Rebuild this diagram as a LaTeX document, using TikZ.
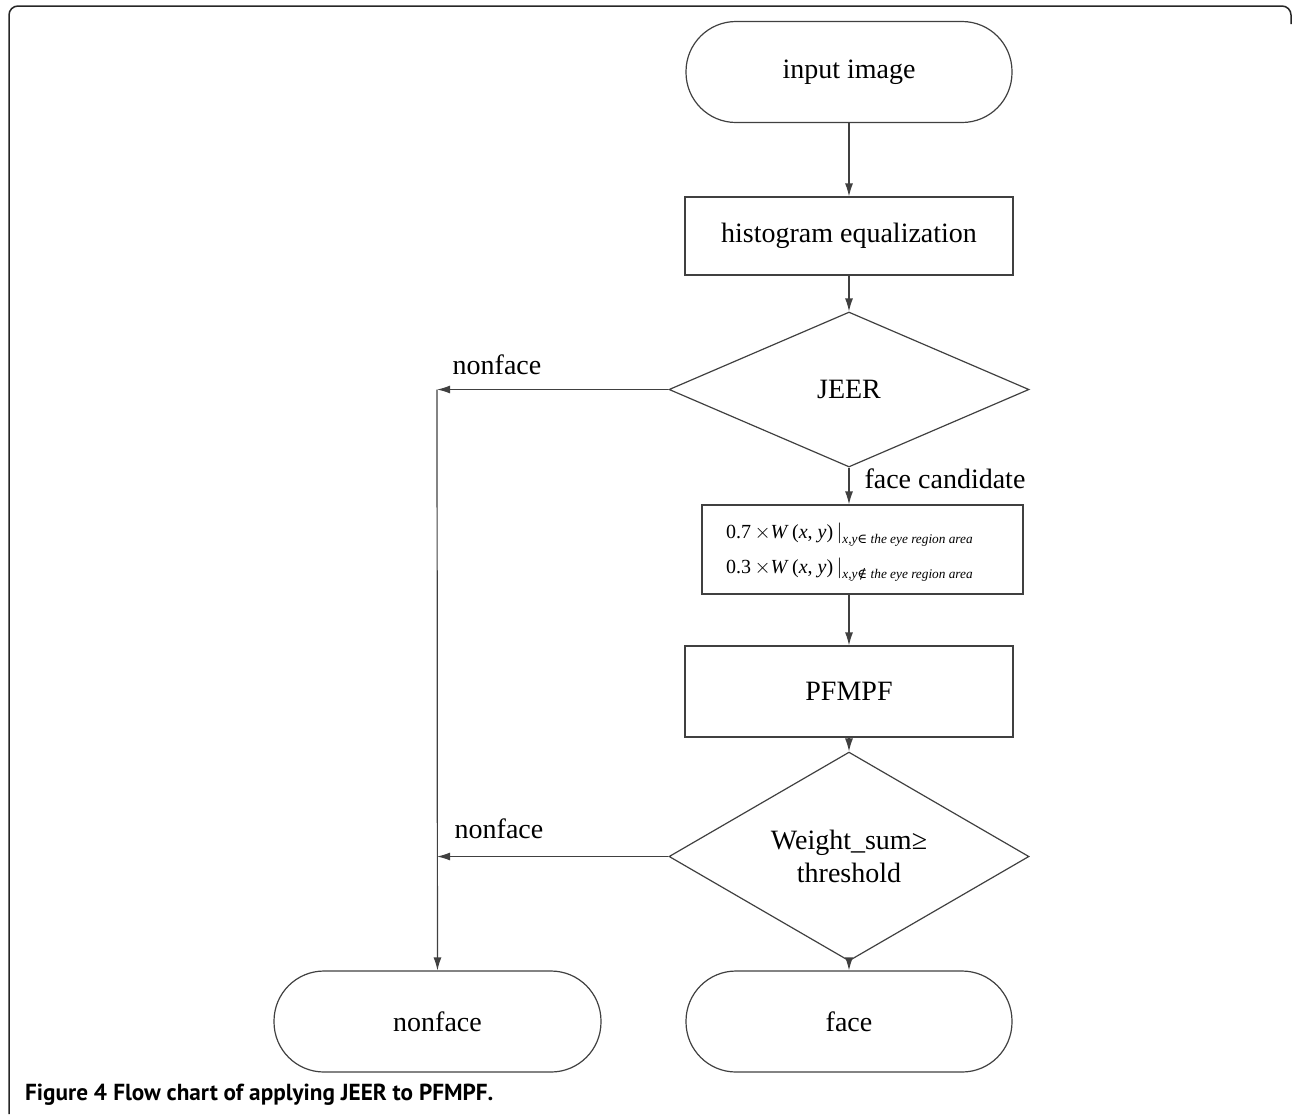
\documentclass[tikz,border=0pt]{standalone}
\usepackage{fontspec}
\setmainfont{Liberation Serif}
\newfontfamily\capfont{PT Sans}
\newfontfamily\symfnt{DejaVu Serif}
\usetikzlibrary{shapes.geometric,arrows.meta}
\begin{document}
\begin{tikzpicture}[x=1pt,y=-1pt,
  lbl/.style={font=\fontsize{28}{33}\selectfont},
  ln/.style={draw=black!75,line width=1.2pt},
  term/.style={ln,rectangle,rounded corners=50pt,minimum width=326pt,minimum height=101pt,inner sep=0pt,lbl},
  proc/.style={ln,rectangle,minimum width=328pt,minimum height=78pt,inner sep=0pt,lbl},
  dec/.style={ln,diamond,inner sep=0pt,lbl,align=center,minimum width=360pt,minimum height=155pt},
  arr/.style={draw=black!75,line width=1.2pt,-{Latex[length=13pt,width=8pt]}}
]
\useasboundingbox (0,0) rectangle (1292,1114);
\draw[line width=1.5pt,black!85,rounded corners=9pt] (9,1114) -- (9,6) -- (1291,6) -- (1291,24);

\node[term] (in) at (849,72) {input image};
\node[proc] (hist) at (849,236) {histogram equalization};
\node[dec] (jeer) at (849,389.5) {JEER};
\node[ln,rectangle,minimum width=321pt,minimum height=89pt,inner sep=0pt] (form) at (862.5,549.5) {};
\node[inner sep=0pt,align=left,anchor=west] (formtxt) at (726,552)
  {{\fontsize{20}{20}\selectfont 0.7\,$\times$\textit{W}\,(\textit{x}, \textit{y})\,$|$}\raisebox{-5pt}{\fontsize{13.3}{13.3}\selectfont\textit{x,y}{\symfnt ∈}\ \textit{the eye region area}}\\[10pt]
   {\fontsize{20}{20}\selectfont 0.3\,$\times$\textit{W}\,(\textit{x}, \textit{y})\,$|$}\raisebox{-5pt}{\fontsize{13.3}{13.3}\selectfont\textit{x,y}{\symfnt ∉}\ \textit{the eye region area}}};
\node[proc,minimum height=91pt] (pf) at (849,691.5) {PFMPF};
\node[dec] (ws) at (849,856.5) {Weight\_sum≥\\threshold};
\node[term] (face) at (849,1021.5) {face};
\node[term,minimum width=327pt] (nf) at (437.5,1021.5) {nonface};

\coordinate (c1) at (437,389.5);
\coordinate (c2) at (437,856.5);

\draw[arr] (in) -- (hist);
\draw[arr] (hist) -- (jeer);
\draw[arr] (jeer.west) -- (c1);
\draw[arr] (c1) -- (nf);
\draw[arr] (jeer.south) -- (jeer.south |- form.north);
\draw[arr] (jeer.south |- form.south) -- (pf);
\draw[arr] (pf) -- (ws);
\draw[arr] (ws.west) -- (c2);
\draw[arr] (ws) -- (face);

\node[lbl,anchor=base] (l1) at (497,374) {nonface};
\node[lbl,anchor=base] (l2) at (499,838) {nonface};
\node[lbl,anchor=base west] (l3) at (861,488) {face candidate};

\node[anchor=base west,inner sep=0pt,font=\capfont\fontsize{23.2}{23.2}\selectfont] (cap) at (25,1100)
  {\textbf{Figure 4} \textbf{Flow chart of applying JEER to PFMPF.}};
\end{tikzpicture}
\end{document}
